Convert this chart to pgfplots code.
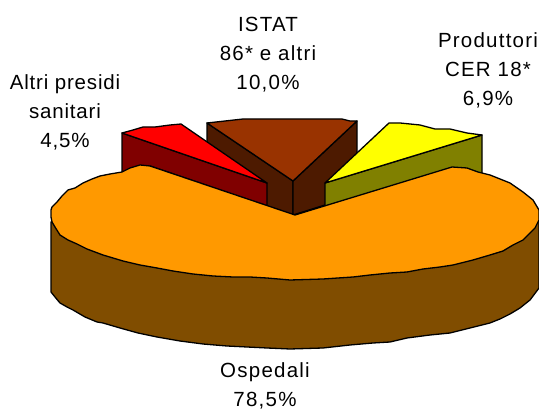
\documentclass[border=0pt]{standalone}
\usepackage{pgfplots}
\pgfplotsset{compat=1.18}
\usepackage{fontspec}
\setmainfont{Liberation Sans}
\definecolor{oT}{HTML}{FF9900}\definecolor{oS}{HTML}{804D00}
\definecolor{bT}{HTML}{993300}\definecolor{bS}{HTML}{4D1A00}
\definecolor{rT}{HTML}{FF0000}\definecolor{rS}{HTML}{800000}
\definecolor{yT}{HTML}{FFFF00}\definecolor{yS}{HTML}{808000}
\tikzset{lab/.style={align=center,font=\fontsize{20.5}{29}\selectfont\addfontfeature{LetterSpace=6},inner sep=0pt},
 labn/.style={align=center,font=\fontsize{20.5}{29}\selectfont\addfontfeature{LetterSpace=4},inner sep=0pt}}
\begin{document}
\begin{tikzpicture}
\useasboundingbox (0,0) rectangle (539pt,411pt);
\begin{axis}[hide axis,scale only axis,width=539pt,height=411pt,
 xmin=0,xmax=539,ymin=0,ymax=411,y dir=reverse,clip=true,
 every axis plot/.append style={line width=1.3pt,line join=round,no markers}]
% ISTAT slice
\addplot[fill=bS,draw=black] coordinates {(207,123)(293,181)(293,215)(207,185)} --cycle;
\addplot[fill=bS,draw=black] coordinates {(357,121)(293,181)(293,215)(357,195)} --cycle;
\addplot[fill=bT,draw=black] coordinates {(207,123)(225,121)(243,119)(280,119)(342,119)(350,121)(357,121)(293,181)} --cycle;
% Altri presidi slice
\addplot[fill=rS,draw=black] coordinates {(122,133)(267,183)(267,206)(150,166)(143,166)(122,172)} --cycle;
\addplot[fill=rT,draw=black] coordinates {(122,133)(133,130)(143,127)(155,127)(170,125)(181,124)(267,183)} --cycle;
% Produttori slice
\addplot[fill=yS,draw=black] coordinates {(325,183)(482,135)(482,176)(325,206)} --cycle;
\addplot[fill=yT,draw=black] coordinates {(325,183)(389,123)(400,123)(410,124)(420,125)(435,129)(450,129)(467,133)(482,135)} --cycle;
% Ospedali slice: side, then top
\addplot[fill=oS,draw=black] coordinates {(51,222)(51,292)(55,297)(60,303)(67,307)(73,310)(85,317)(97,322)(103,323)(120,328)(138,333)(157,337)(180,341)(203,344)(227,346)(247,347)(267,348)(290,349)(323,348)(350,345)(373,343)(390,342)(407,338)(430,335)(450,333)(470,328)(490,323)(500,319)(510,314)(520,308)(530,300)(539,288)(539,220)(400,250)} --cycle;
\addplot[fill=oT,draw=black] coordinates {(150,166)(140,165)(130,168)(122,172)(110,174)(100,176)(92,179)(83,183)(75,188)(68,190)(62,196)(57,202)(52,207)(51,210)(51,217)(52,222)(55,227)(60,235)(68,240)(77,244)(87,249)(103,255)(123,261)(140,265)(157,268)(173,271)(193,274)(213,276)(233,277)(250,277)(267,278)(290,280)(323,279)(353,277)(370,275)(390,273)(407,272)(423,269)(440,267)(453,265)(473,260)(490,255)(503,251)(513,245)(523,240)(530,233)(535,228)(539,220)(539,210)(533,200)(523,192)(510,183)(500,179)(490,175)(478,172)(467,168)(452,167)(295,215)} --cycle;
\node[lab] at (268,55) {ISTAT\\86* e altri\\10,0\%};
\node[lab] at (488,70) {Produttori\\CER 18*\\6,9\%};
\node[labn] at (65,112) {Altri presidi\\sanitari\\4,5\%};
\node[lab] at (265,386) {Ospedali\\78,5\%};
\end{axis}
\end{tikzpicture}
\end{document}
